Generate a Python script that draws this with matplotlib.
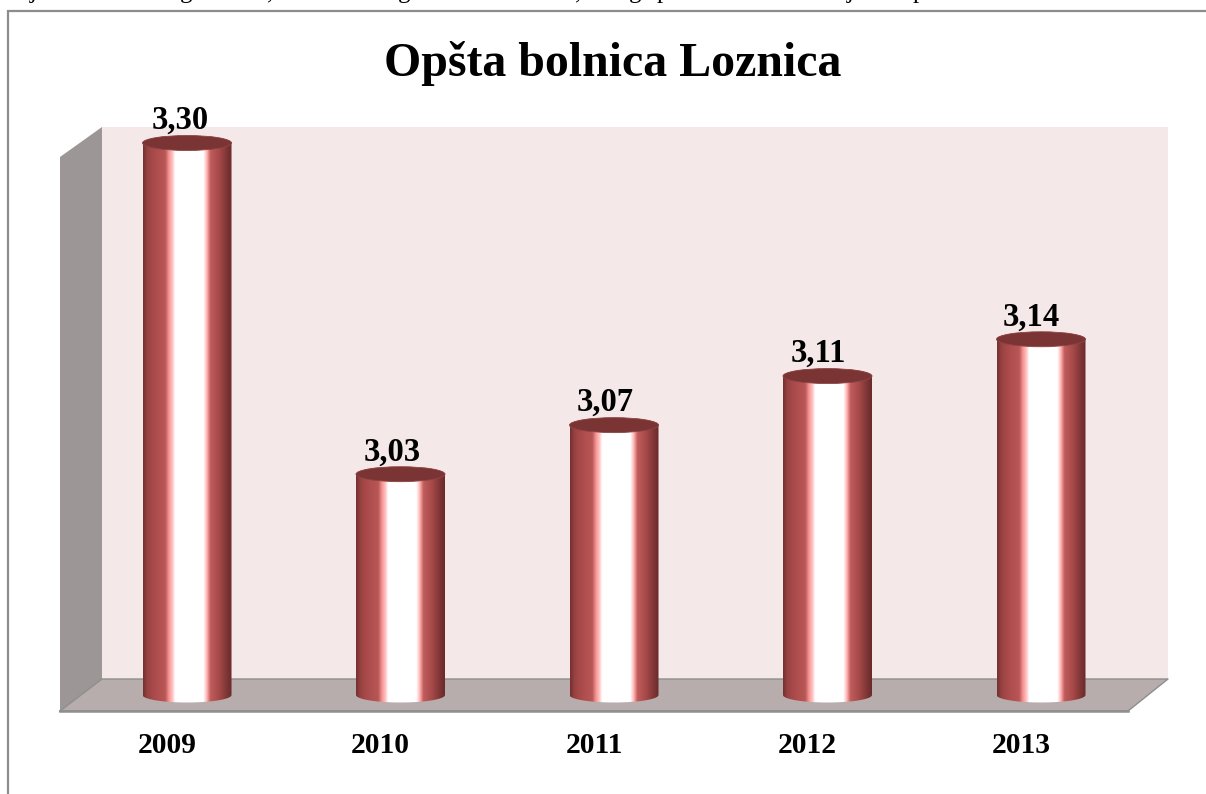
import numpy as np
import matplotlib
matplotlib.use("Agg")
import matplotlib.pyplot as plt
from matplotlib.colors import LinearSegmentedColormap
from matplotlib.patches import Ellipse, PathPatch, Polygon
from matplotlib.path import Path

# === Data ===
years = ["2009", "2010", "2011", "2012", "2013"]
values = [3.30, 3.03, 3.07, 3.11, 3.14]
value_labels = ["3,30", "3,03", "3,07", "3,11", "3,14"]
title = "Opšta bolnica Loznica"
base_value = 2.85

# descenders of the cut off text line above the chart
cut_glyphs = ["j", "g", ",", "g", ",", "g", "p", "j", "p"]
cut_glyph_x = [33, 186, 270, 404, 578, 635, 663, 850, 919]

# === Layout (pixels) ===
W, H = 1206, 794
X0, DX = 187.0, 213.5     # first bar centre, spacing
Y_BASE, Y_TOP = 695.0, 143.0   # pixel rows of base_value and of 3.30
HALF_W = 44.5
HALF_H = 7.5

plt.rcParams['font.family'] = ['Liberation Serif', 'DejaVu Serif']

fig = plt.figure(figsize=(W / 100, H / 100), dpi=100, facecolor="white")

# background: frame and 3D box, in pixel coordinates
bg = fig.add_axes([0, 0, 1, 1], zorder=0)
bg.set_xlim(0, W)
bg.set_ylim(H, 0)
bg.axis('off')
bg.plot([8, 8, W], [H, 11, 11], color="#8c8c8c", lw=1.6, solid_joinstyle='miter')
bg.add_patch(Polygon([(102, 127), (1168, 127), (1168, 679), (102, 679)], fc="#f4e8e8", ec="none"))
bg.add_patch(Polygon([(60, 157), (102, 127), (102, 679), (60, 711)], fc="#9d9696", ec="none"))
bg.add_patch(Polygon([(60, 711), (102, 679), (1168, 679), (1128, 711)], fc="#b7adad", ec="none"))
bg.plot([60, 102, 1168, 1128, 60], [711, 679, 679, 711, 711], color="#8e8e8e", lw=1.0)
bg.plot([60, 1128], [711, 711], color="#8e8e8e", lw=1.8)

# data axes
px_per_unit = (Y_BASE - Y_TOP) / (max(values) - base_value)
ylim = (2.80, 3.35)
ax_bottom_px = Y_BASE + (base_value - ylim[0]) * px_per_unit
ax_top_px = Y_TOP - (ylim[1] - max(values)) * px_per_unit
ax_left_px = X0 - 0.5 * DX
ax_w_px = 5 * DX
ax = fig.add_axes([ax_left_px / W, 1 - ax_bottom_px / H, ax_w_px / W, (ax_bottom_px - ax_top_px) / H], zorder=1)
ax.patch.set_alpha(0)
ax.axis('off')

cyl = LinearSegmentedColormap.from_list("cyl", [
    (0.00, "#753030"), (0.05, "#984242"), (0.12, "#aa4a4a"), (0.25, "#b95757"),
    (0.29, "#f59393"), (0.33, "#ffc0c0"), (0.36, "#ffffff"), (0.68, "#ffffff"),
    (0.72, "#ffb0b0"), (0.76, "#c05c5c"), (0.86, "#a54848"), (0.95, "#7c3434"), (1.00, "#6a2b2b")])
grad = np.linspace(0, 1, 256).reshape(1, -1)

bw = HALF_W / DX
bh = HALF_H / px_per_unit
theta = np.linspace(np.pi, 2 * np.pi, 60)

for i, (v, lab, yr) in enumerate(zip(values, value_labels, years)):
    # cylinder body: straight sides, rounded bottom, rounded top
    bx = i + bw * np.cos(theta)
    by = base_value + bh * np.sin(theta)
    tx = i + bw * np.cos(theta[::-1])
    ty = v - bh * np.sin(theta[::-1])
    body = PathPatch(Path(np.column_stack([np.r_[bx, tx], np.r_[by, ty]])), fc="none", ec="none")
    ax.add_patch(body)
    im = ax.imshow(grad, cmap=cyl, extent=(i - bw, i + bw, base_value - bh, v + bh),
                   aspect='auto', interpolation='bilinear', zorder=2)
    im.set_clip_path(body)
    ax.add_patch(Ellipse((i, v), 2 * bw, 2 * bh, fc="#7b3434", ec="#8f4444", lw=0.6, zorder=3))
    ax.annotate(lab, (i, v), xytext=(-5.2 - 0.5 * i, 10), textcoords='offset points', ha='center', va='baseline',
                fontsize=23.5, fontweight='bold', color="black", zorder=4)
    ax.annotate(yr, (i, base_value), xytext=(-14.3, -41.8), textcoords='offset points', ha='center', va='baseline',
                fontsize=21.3, fontweight='bold', color="black", zorder=4)

ax.set_xlim(-0.5, 4.5)
ax.set_ylim(*ylim)

fig.text(613 / W, 1 - 76 / H, title, ha='center', va='baseline', fontsize=34.5, fontweight='bold', color="black")

for g, gx in zip(cut_glyphs, cut_glyph_x):
    fig.text(gx / W, 1 + 2 / H, g, ha='center', va='baseline', fontsize=18, color="black")

fig.savefig("out.png", dpi=100)
